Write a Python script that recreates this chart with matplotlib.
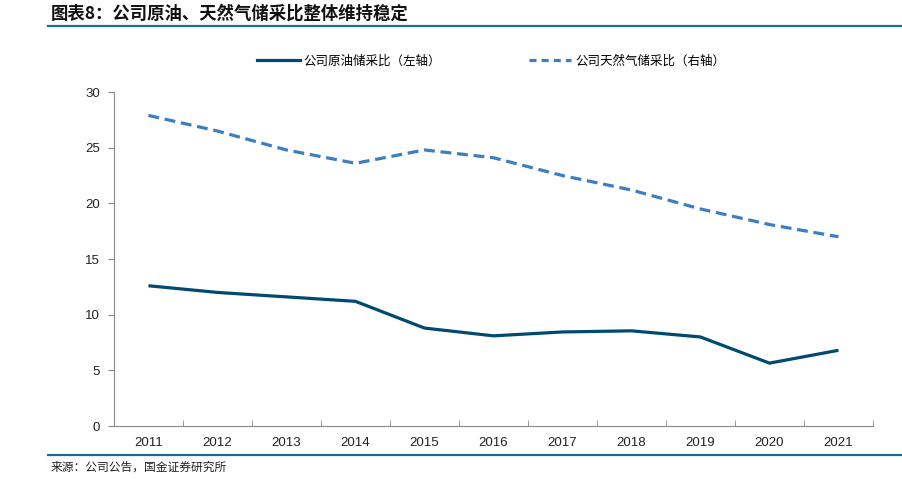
import numpy as np
import matplotlib
matplotlib.use("Agg")
import matplotlib.pyplot as plt
from matplotlib.lines import Line2D

plt.rcParams['font.family'] = ['Liberation Sans', 'Noto Sans CJK SC', 'DejaVu Sans']

years = ['2011', '2012', '2013', '2014', '2015', '2016', '2017', '2018', '2019', '2020', '2021']
oil_ratio = [12.6, 12.0, 11.6, 11.2, 8.8, 8.1, 8.45, 8.55, 8.0, 5.65, 6.8]
gas_ratio = [27.9, 26.5, 24.8, 23.6, 24.8, 24.1, 22.5, 21.2, 19.5, 18.1, 17.0]

oil_label = '公司原油储采比（左轴）'
gas_label = '公司天然气储采比（右轴）'
title = '图表8：公司原油、天然气储采比整体维持稳定'
source = '来源：公司公告，国金证券研究所'

c_oil = '#00496f'
c_gas = '#3d7dc2'
c_rule = '#1f6a8f'
c_axis = '#888888'

fig = plt.figure(figsize=(9.03, 4.84), dpi=100)
ax = fig.add_axes([0.1262, 0.1198, 0.8405, 0.690])
ax2 = ax.twinx()

x = np.arange(len(years))
ax.plot(x, oil_ratio, color=c_oil, lw=2.3, solid_capstyle='butt')
ax2.plot(x, gas_ratio, color=c_gas, lw=2.3, dashes=(3.4, 1.8))

for a in (ax, ax2):
    a.set_ylim(0, 30)
    a.set_xlim(-0.5, len(years) - 0.5)

ax.set_yticks(range(0, 31, 5))
ax.set_xticks(x)
ax.set_xticklabels(years)
ax.set_xticks(np.arange(-0.5, len(years), 1.0), minor=True)
ax.tick_params(axis='x', which='major', length=0, pad=8, labelsize=9.5, colors='#222222')
ax.tick_params(axis='x', which='minor', direction='in', length=4, color=c_axis)
ax.tick_params(axis='y', direction='out', length=4, color=c_axis, labelsize=9.5,
               labelcolor='#222222', pad=6)

for a in (ax, ax2):
    a.spines['top'].set_visible(False)
    a.spines['right'].set_visible(False)
    a.spines['left'].set_color(c_axis)
    a.spines['bottom'].set_color(c_axis)
ax2.spines['left'].set_visible(False)
ax2.spines['bottom'].set_visible(False)
ax2.set_yticks([])

handles = [Line2D([], [], color=c_oil, lw=2.3),
           Line2D([], [], color=c_gas, lw=2.3, dashes=(2.2, 1.6))]
fig.legend(handles, [oil_label, gas_label], loc='center', bbox_to_anchor=(0.544, 0.874),
           ncol=2, frameon=False, handlelength=3.4, handletextpad=0.3,
           columnspacing=7.0, prop={'family': ['Noto Sans CJK SC'], 'size': 9})

fig.text(0.056, 0.972, title, fontsize=12.5, fontweight='bold', style='italic',
         family=['Noto Sans CJK SC'], va='center', ha='left', color='#111111')
fig.add_artist(Line2D([0.053, 1.0], [0.946, 0.946], color=c_rule, lw=1.6))
fig.add_artist(Line2D([0.053, 1.0], [0.060, 0.060], color=c_rule, lw=1.6))
fig.text(0.056, 0.035, source, fontsize=8.5, family=['Noto Sans CJK SC'],
         va='center', ha='left', color='#222222')

fig.savefig('out.png', dpi=100)
